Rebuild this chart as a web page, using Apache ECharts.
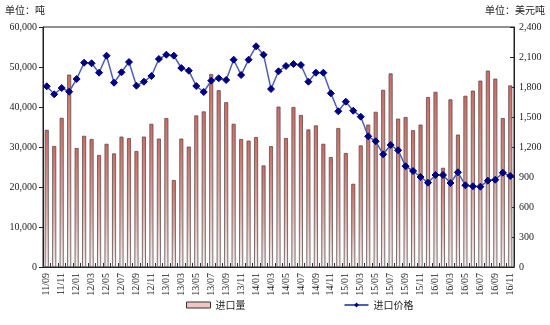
<!DOCTYPE html>
<html>
<head>
<meta charset="utf-8">
<script src="https://cdn.jsdelivr.net/npm/echarts@6/dist/echarts.min.js"></script>
<style>
  html, body { margin: 0; padding: 0; background: #fff; }
  #chart { width: 550px; height: 325px; }
</style>
</head>
<body>
<div id="chart"></div>
<script>
// Monthly import volume (tonnes) and import price (USD/tonne), 2011/09 – 2016/11
const months = [
  '11/09','11/10','11/11','11/12',
  '12/01','12/02','12/03','12/04','12/05','12/06','12/07','12/08','12/09','12/10','12/11','12/12',
  '13/01','13/02','13/03','13/04','13/05','13/06','13/07','13/08','13/09','13/10','13/11','13/12',
  '14/01','14/02','14/03','14/04','14/05','14/06','14/07','14/08','14/09','14/10','14/11','14/12',
  '15/01','15/02','15/03','15/04','15/05','15/06','15/07','15/08','15/09','15/10','15/11','15/12',
  '16/01','16/02','16/03','16/04','16/05','16/06','16/07','16/08','16/09','16/10','16/11'
];

const importVolume = [
  34300, 30250, 37300, 48100,
  29750, 32800, 32000, 28000, 30800, 28400, 32600, 32200, 29000, 32600, 35800, 32100,
  37250, 21750, 32100, 30100, 37900, 38900, 48250, 44200, 41200, 35800, 32000, 31600,
  32500, 25400, 30200, 40100, 32250, 40000, 38000, 34400, 35400, 30800, 27500, 34750,
  28500, 20800, 30400, 35600, 38800, 44300, 48400, 37100, 37500, 34200, 35600, 42500,
  43800, 24800, 41900, 33100, 42800, 44100, 46600, 49100, 47100, 37250, 45400
];

const importPrice = [
  1807, 1727, 1790, 1753,
  1880, 2043, 2037, 1943, 2113, 1843, 1947, 2050, 1813, 1853, 1910, 2080,
  2123, 2113, 1990, 1963, 1810, 1750, 1863, 1887, 1870, 2073, 1920, 2073,
  2207, 2123, 1780, 1957, 2010, 2030, 2020, 1853, 1943, 1943, 1737, 1557,
  1653, 1563, 1503, 1307, 1257, 1127, 1220, 1167, 1008, 960, 900, 843,
  920, 920, 840, 947, 817, 807, 803, 863, 873, 943, 910
];

const leftTicks = { min: 0, max: 60000, interval: 10000 };
const rightTicks = { min: 0, max: 2400, interval: 300 };

const numFont = 'Liberation Serif';
const cjkFont = '"Noto Sans CJK SC", sans-serif';

const chart = echarts.init(document.getElementById('chart'), null, { renderer: 'canvas' });

chart.setOption({
  animation: false,
  backgroundColor: '#ffffff',
  grid: { left: 43, right: 36, top: 27, bottom: 58, show: true, borderColor: '#222', borderWidth: 1 },
  graphic: [
    { type: 'text', left: 5, top: 5, style: { text: '单位：吨', font: '10px ' + cjkFont, fill: '#222' } },
    { type: 'text', right: 5, top: 5, style: { text: '单位：美元吨', font: '10px ' + cjkFont, fill: '#222' } }
  ],
  legend: {
    bottom: 10,
    left: 181,
    itemGap: 98,
    itemWidth: 24,
    itemHeight: 6,
    textStyle: { fontFamily: cjkFont, fontSize: 10, color: '#222' },
    data: [
      { name: '进口量', icon: 'rect', itemStyle: { color: '#f2c4c4', borderColor: '#333', borderWidth: 1 } },
      { name: '进口价格' }
    ]
  },
  xAxis: {
    type: 'category',
    data: months,
    boundaryGap: true,
    axisLine: { lineStyle: { color: '#222' } },
    axisTick: { show: true, inside: true, length: 4, interval: 0, lineStyle: { color: '#333' } },
    axisLabel: { interval: 1, rotate: 90, fontFamily: numFont, fontSize: 10, color: '#222', margin: 6 },
    splitLine: { show: false }
  },
  yAxis: [
    {
      type: 'value',
      min: leftTicks.min, max: leftTicks.max, interval: leftTicks.interval,
      axisLine: { show: true, lineStyle: { color: '#222' } },
      axisTick: { show: true, length: 4, lineStyle: { color: '#222' } },
      axisLabel: {
        fontFamily: numFont, fontSize: 10, color: '#222', margin: 6,
        formatter: v => v.toLocaleString('en-US')
      },
      splitLine: { show: false }
    },
    {
      type: 'value',
      position: 'right',
      min: rightTicks.min, max: rightTicks.max, interval: rightTicks.interval,
      axisLine: { show: true, lineStyle: { color: '#222' } },
      axisTick: { show: true, inside: true, length: 4, lineStyle: { color: '#222' } },
      axisLabel: {
        fontFamily: numFont, fontSize: 10, color: '#222', margin: 5,
        formatter: v => v.toLocaleString('en-US')
      },
      splitLine: { show: false }
    }
  ],
  series: [
    {
      name: '进口量',
      type: 'bar',
      yAxisIndex: 0,
      data: importVolume,
      barWidth: 4,
      itemStyle: {
        color: new echarts.graphic.LinearGradient(0, 0, 0, 1, [
          { offset: 0, color: '#cf6a62' },
          { offset: 0.55, color: '#dca6a2' },
          { offset: 1, color: '#f4eeee' }
        ]),
        borderColor: '#5a4c4c',
        borderWidth: 0.8
      }
    },
    {
      name: '进口价格',
      type: 'line',
      yAxisIndex: 1,
      data: importPrice,
      showAllSymbol: true,
      symbol: 'diamond',
      symbolSize: 7,
      lineStyle: { color: '#4f5fb0', width: 1.5 },
      itemStyle: { color: '#000080', borderColor: '#000080' }
    }
  ]
});
</script>
</body>
</html>
